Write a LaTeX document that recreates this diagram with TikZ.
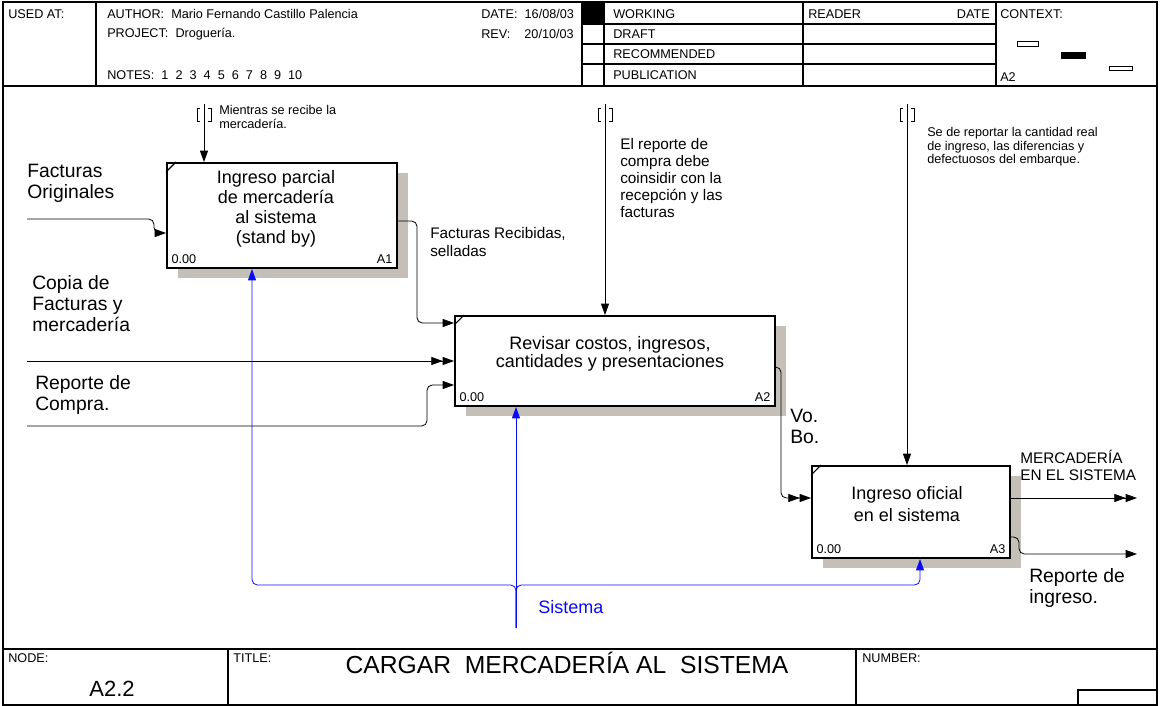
\documentclass[tikz,border=0pt]{standalone}
\usepackage{fontspec}
\setmainfont{Liberation Sans}
\usetikzlibrary{arrows.meta,shadows}

\definecolor{hatch}{RGB}{196,192,184}
\definecolor{mechblue}{RGB}{10,10,250}

\tikzset{
  frame/.style={line width=0.8pt},
  arrowone/.style={-{Triangle[length=8.5pt,width=6pt]}},
  arrowtwo/.style={-{Triangle[length=8.5pt,width=6pt]Triangle[length=8.5pt,width=6pt]}},
  flow/.style={line width=0.6pt, rounded corners=4pt},
  mech/.style={flow, draw=mechblue},
  bracket/.style={line width=0.5pt},
  actbox/.style={draw, line width=1.5pt, fill=white, inner sep=0pt,
    drop shadow={shadow xshift=8pt, shadow yshift=-7.5pt, opacity=1, fill=hatch}},
  boxtext/.style={font=\fontsize{13.5}{15}\selectfont, align=center, inner sep=0pt},
  boxnum/.style={font=\fontsize{9.5}{10}\selectfont, inner sep=4pt},
  biglbl/.style={font=\fontsize{14.5}{15.75}\selectfont, align=left, inner sep=0pt, anchor=west},
  notelbl/.style={font=\fontsize{11.5}{12.8}\selectfont, align=left, inner sep=0pt, anchor=west},
  smalllbl/.style={font=\fontsize{9.5}{10.1}\selectfont, align=left, inner sep=0pt, anchor=west},
  formtxt/.style={font=\fontsize{9.5}{10}\selectfont, inner sep=0pt, anchor=west},
}

\begin{document}
\begin{tikzpicture}[x=0.75pt,y=-0.75pt]
  \useasboundingbox (0,0) rectangle (1160,706);

  % form: outer frame, header and footer
  \draw[frame] (3,2) rectangle (1157,705);
  \draw[frame] (3,86) -- (1157,86);
  \draw[frame] (3,649) -- (1157,649);
  \foreach \x in {96,582,604,803,996}
    \draw[frame] (\x,2) -- (\x,86);
  \foreach \y in {24,44,64}
    \draw[frame] (582,\y) -- (996,\y);
  \fill (582,2) rectangle (604,24);
  \draw[frame] (228,649) -- (228,705);
  \draw[frame] (856,649) -- (856,705);
  \draw[frame] (1078,690) rectangle (1157,705);

  \node[formtxt] (usedat) at (8,14) {USED AT:};
  \node[formtxt] (author) at (107,14) {AUTHOR:\ \ Mario Fernando Castillo Palencia};
  \node[formtxt] (project) at (107,34) {PROJECT:\ \ Droguería.};
  \node[formtxt] (notes) at (107,75) {NOTES:\ \ 1\ \ 2\ \ 3\ \ 4\ \ 5\ \ 6\ \ 7\ \ 8\ \ 9\ \ 10};
  \node[formtxt] (date) at (481,14) {DATE:\ \ 16/08/03};
  \node[formtxt] (rev) at (481,34) {REV:\ \ \ \ 20/10/03};
  \node[formtxt] (working) at (613,14) {WORKING};
  \node[formtxt] (draft) at (613,34) {DRAFT};
  \node[formtxt] (recom) at (613,54) {RECOMMENDED};
  \node[formtxt] (public) at (613,75) {PUBLICATION};
  \node[formtxt] (reader) at (808,14) {READER};
  \node[formtxt, anchor=east] (rdate) at (990,14) {DATE};
  \node[formtxt] (context) at (1000,14) {CONTEXT:};
  \node[formtxt] (ctxnode) at (1000,77) {A2};
  \draw[line width=0.6pt] (1017,41) rectangle (1038,46);
  \fill (1061,52) rectangle (1086,59);
  \draw[line width=0.6pt] (1109,66) rectangle (1132,70);

  \node[formtxt] (nodehd) at (8,658) {NODE:};
  \node[font=\fontsize{16.5}{17}\selectfont] (nodeno) at (112,689) {A2.2};
  \node[formtxt] (titlehd) at (233,658) {TITLE:};
  \node[font=\fontsize{18.5}{19}\selectfont] (title) at (567,663)
    {CARGAR\ \ MERCADERÍA AL\ \ SISTEMA};
  \node[formtxt] (numberhd) at (862,658) {NUMBER:};

  % activity boxes
  \node[actbox, minimum width=172.5pt, minimum height=78.75pt] (a1) at (282,215.5) {};
  \node[actbox, minimum width=240pt, minimum height=67.5pt] (a2) at (615,361) {};
  \node[actbox, minimum width=148.5pt, minimum height=69pt] (a3) at (911,512) {};

  \node[boxtext] (a1t) at ([shift={(-6,-7)}]a1.center)
    {Ingreso parcial\\de mercadería\\al sistema\\(stand by)};
  \node[boxtext, font=\fontsize{13.5}{13.8}\selectfont] (a2t) at ([shift={(-5,-7)}]a2.center)
    {Revisar costos, ingresos,\\cantidades y presentaciones};
  \node[boxtext, font=\fontsize{13.5}{16}\selectfont] (a3t) at ([shift={(-4,-8)}]a3.center)
    {Ingreso oficial\\en el sistema};

  \foreach \b/\n in {a1/A1,a2/A2,a3/A3}{
    \draw[line width=0.8pt] ([yshift=-7.5pt]\b.north west) -- ([xshift=7.5pt]\b.north west);
    \node[boxnum, anchor=south west] (\b-no) at (\b.south west) {0.00};
    \node[boxnum, anchor=south east] (\b-id) at (\b.south east) {\n};
  }

  % inputs
  \coordinate (in1) at (27,219);
  \coordinate (in2) at (27,361);
  \coordinate (in3) at (27,426);
  \draw[flow, arrowone] (in1) -| ([shift={(-12,17.5)}]a1.west) -- ([shift={(0,17.5)}]a1.west);
  \draw[flow, arrowone] ([shift={(0,5.5)}]a1.east) -| ([shift={(-37,-38)}]a2.west) -- ([shift={(0,-38)}]a2.west);
  \draw[flow, arrowtwo] (in2) -- (a2.west);
  \draw[flow, arrowone] (in3) -| ([shift={(-27,24)}]a2.west) -- ([shift={(0,24)}]a2.west);
  \draw[flow, arrowtwo] ([shift={(0,6)}]a2.east) -| ([shift={(-30,-14)}]a3.west) -- ([shift={(0,-14)}]a3.west);

  % controls
  \coordinate (c1) at (204,104);
  \coordinate (c2) at (605,104);
  \coordinate (c3) at (907,104);
  \draw[flow, arrowone] (c1) -- (c1 |- a1.north);
  \draw[flow, arrowone] (c2) -- (c2 |- a2.north);
  \draw[flow, arrowone] (c3) -- (c3 |- a3.north);
  \foreach \c in {c1,c2,c3}{
    \draw[bracket] ([shift={(-4,4)}]\c) -- ([shift={(-7,4)}]\c) -- ([shift={(-7,17)}]\c) -- ([shift={(-4,17)}]\c);
    \draw[bracket] ([shift={(4,4)}]\c) -- ([shift={(7,4)}]\c) -- ([shift={(7,17)}]\c) -- ([shift={(4,17)}]\c);
  }

  % outputs
  \coordinate (out1) at (1137,498);
  \coordinate (out2) at (1137,554);
  \draw[flow, arrowtwo] (a3.east |- out1) -- (out1);
  \draw[flow, arrowone] ([shift={(0,25)}]a3.east) -| ([shift={(8,42)}]a3.east) -- (out2);

  % mechanism
  \coordinate (m0) at (516,628);
  \coordinate (mj) at (516,585);
  \draw[mech, arrowone] (m0) -- (m0 |- a2.south);
  \draw[mech, arrowone] (m0) -- (mj) -| ([xshift=-22.5pt]a1.south);
  \draw[mech, arrowone] (m0) -- (mj) -| ([xshift=6.75pt]a3.south);

  % labels
  \node[biglbl] (lfo) at (27,183) {Facturas\\Originales};
  \node[biglbl] (lcf) at (32,304) {Copia de\\Facturas y\\mercadería};
  \node[biglbl] (lrc) at (35,395) {Reporte de\\Compra.};
  \node[notelbl] (lfr) at (430,242) {Facturas Recibidas,\\selladas};
  \node[smalllbl] (lmr) at (219,117) {Mientras se recibe la\\mercadería.};
  \node[notelbl] (lrp) at (620,178) {El reporte de\\compra debe\\coinsidir con la\\recepción y las\\facturas};
  \node[smalllbl] (lsr) at (927,147) {Se de reportar la cantidad real\\de ingreso, las diferencias y\\defectuosos del embarque.};
  \node[biglbl] (lvb) at (790,426) {Vo.\\Bo.};
  \node[notelbl] (lms) at (1020,465) {MERCADERÍA\\EN EL SISTEMA};
  \node[biglbl] (lri) at (1029,588) {Reporte de\\ingreso.};
  \node[font=\fontsize{13.5}{14}\selectfont, text=mechblue, inner sep=0pt, anchor=west] (lsis) at (538,607) {Sistema};
\end{tikzpicture}
\end{document}
